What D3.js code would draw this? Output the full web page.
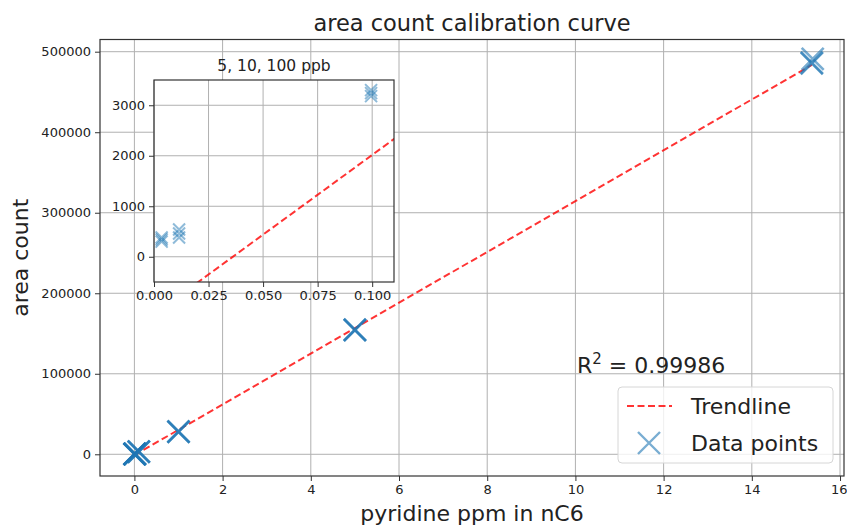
<!DOCTYPE html>
<html>
<head>
<meta charset="utf-8">
<script src="https://cdn.jsdelivr.net/npm/d3@7"></script>
<style>
  body { margin: 0; background: #fff; }
  svg { font-family: 'DejaVu Sans', sans-serif; }
  .tick text { fill: #222; }
</style>
</head>
<body>
<div id="svg-container"></div>
<script>
// Data
var ppm = [0.0035, 0.0035, 0.0035, 0.0115, 0.0115, 0.0115, 0.0995, 0.0995, 0.0995,
  1.0, 1.0, 1.0, 5.0, 5.0, 5.0, 15.36, 15.36, 15.38]
var area = [300, 340, 380, 380, 460, 540, 3180, 3240, 3300,
  27800, 28100, 28300, 154200, 154500, 154700, 485500, 486300, 491000]
var trendX = [0, 15.36]
var trendY = [-1140, 483600]
var xTicks = [0, 2, 4, 6, 8, 10, 12, 14, 16]
var yTicks = [0, 100000, 200000, 300000, 400000, 500000]
var insetXTicks = [0, 0.025, 0.05, 0.075, 0.1]
var insetYTicks = [0, 1000, 2000, 3000]
var rSquared = '0.99986'

var svgWidth = 847,
  svgHeight = 527

// main axes box
var main = { left: 100, right: 844, top: 39.5, bottom: 476 }
// inset axes box
var inset = { left: 154, right: 394, top: 80, bottom: 282 }

var svg = d3
  .select('#svg-container')
  .append('svg')
  .attr('width', svgWidth)
  .attr('height', svgHeight)

var xScale = d3.scaleLinear().domain([-0.78, 16.09]).range([main.left, main.right])
var yScale = d3.scaleLinear().domain([-26957, 515155]).range([main.bottom, main.top])
var ixScale = d3.scaleLinear().domain([0, 0.11]).range([inset.left, inset.right])
var iyScale = d3.scaleLinear().domain([-500, 3500]).range([inset.bottom, inset.top])

var defs = svg.append('defs')
defs.append('clipPath').attr('id', 'clip-main')
  .append('rect')
  .attr('x', main.left).attr('y', main.top)
  .attr('width', main.right - main.left).attr('height', main.bottom - main.top)
defs.append('clipPath').attr('id', 'clip-inset')
  .append('rect')
  .attr('x', inset.left).attr('y', inset.top)
  .attr('width', inset.right - inset.left).attr('height', inset.bottom - inset.top)

var points = ppm.map((p, i) => ({ x: p, y: area[i] }))
var trend = trendX.map((t, i) => ({ x: t, y: trendY[i] }))

function crossPath(size) {
  var h = size / 2
  return `M${-h},${-h}L${h},${h}M${-h},${h}L${h},${-h}`
}

// draws one set of axes: grid, data, trendline, spines, ticks
function drawAxes(g, box, x, y, xt, yt, opts) {
  g.append('rect')
    .attr('x', box.left).attr('y', box.top)
    .attr('width', box.right - box.left).attr('height', box.bottom - box.top)
    .attr('fill', '#fff')

  // grid
  g.append('g').selectAll('line').data(xt).join('line')
    .attr('x1', d => x(d)).attr('x2', d => x(d))
    .attr('y1', box.top).attr('y2', box.bottom)
    .attr('stroke', '#b0b0b0').attr('stroke-width', 1)
  g.append('g').selectAll('line').data(yt).join('line')
    .attr('y1', d => y(d)).attr('y2', d => y(d))
    .attr('x1', box.left).attr('x2', box.right)
    .attr('stroke', '#b0b0b0').attr('stroke-width', 1)

  var plot = g.append('g').attr('clip-path', `url(#${opts.clip})`)

  var linegen = d3.line().x(d => x(d.x)).y(d => y(d.y))
  plot.append('path')
    .datum(trend)
    .attr('fill', 'none')
    .attr('stroke', '#ff0000')
    .attr('stroke-opacity', 0.8)
    .attr('stroke-width', 2)
    .attr('stroke-dasharray', '7,3.5')
    .attr('d', linegen)

  plot.append('g').selectAll('path').data(points).join('path')
    .attr('transform', d => `translate(${x(d.x)},${y(d.y)})`)
    .attr('d', crossPath(opts.markerSize))
    .attr('fill', 'none')
    .attr('stroke', '#1f77b4')
    .attr('stroke-opacity', opts.markerAlpha)
    .attr('stroke-width', opts.markerWidth)

  // axes
  var xAxis = d3.axisBottom(x).tickValues(xt).tickSize(5).tickPadding(4)
    .tickFormat(opts.xFormat)
  var yAxis = d3.axisLeft(y).tickValues(yt).tickSize(5).tickPadding(4)
    .tickFormat(opts.yFormat)

  var gx = g.append('g')
    .attr('transform', `translate(0,${box.bottom})`)
    .call(xAxis)
  var gy = g.append('g')
    .attr('transform', `translate(${box.left},0)`)
    .call(yAxis)
  ;[gx, gy].forEach(a => {
    a.select('.domain').remove()
    a.selectAll('.tick line').attr('stroke', '#333')
    a.selectAll('.tick text')
      .style('font-family', "'DejaVu Sans', sans-serif")
      .style('font-size', opts.tickFont + 'px')
  })

  g.append('rect')
    .attr('x', box.left).attr('y', box.top)
    .attr('width', box.right - box.left).attr('height', box.bottom - box.top)
    .attr('fill', 'none')
    .attr('stroke', '#333')
    .attr('stroke-width', 1.2)
  return gx
}

// Main chart
var gMain = svg.append('g')
var mainX = drawAxes(gMain, main, xScale, yScale, xTicks, yTicks, {
  clip: 'clip-main',
  markerSize: 22,
  markerWidth: 2.6,
  markerAlpha: 0.6,
  tickFont: 13,
  xFormat: d3.format('d'),
  yFormat: d3.format('d'),
})
// last label sits against the right edge, as in the original
mainX.selectAll('.tick text').filter(d => d === 16).attr('text-anchor', 'end').attr('dx', 7)

// Inset chart
var gInset = svg.append('g')
drawAxes(gInset, inset, ixScale, iyScale, insetXTicks, insetYTicks, {
  clip: 'clip-inset',
  markerSize: 12,
  markerWidth: 2,
  markerAlpha: 0.5,
  tickFont: 13,
  xFormat: d3.format('.3f'),
  yFormat: d3.format('d'),
})

// Titles and labels
svg.append('text')
  .attr('x', (main.left + main.right) / 2)
  .attr('y', 31)
  .attr('text-anchor', 'middle')
  .style('font-size', '22.5px')
  .attr('fill', '#222')
  .text('area count calibration curve')

svg.append('text')
  .attr('x', (inset.left + inset.right) / 2)
  .attr('y', 71)
  .attr('text-anchor', 'middle')
  .style('font-size', '15.5px')
  .attr('fill', '#222')
  .text('5, 10, 100 ppb')

svg.append('text')
  .attr('x', (main.left + main.right) / 2)
  .attr('y', 521)
  .attr('text-anchor', 'middle')
  .style('font-size', '22px')
  .attr('fill', '#222')
  .text('pyridine ppm in nC6')

svg.append('text')
  .attr('transform', `translate(28, ${(main.top + main.bottom) / 2}) rotate(-90)`)
  .attr('text-anchor', 'middle')
  .style('font-size', '22px')
  .attr('fill', '#222')
  .text('area count')

// R squared annotation
var r2 = svg.append('text')
  .attr('x', 577)
  .attr('y', 373)
  .style('font-size', '22px')
  .attr('fill', '#222')
r2.append('tspan').text('R')
r2.append('tspan').attr('dy', -9).style('font-size', '15px').text('2')
r2.append('tspan').attr('dy', 9).text(' = ' + rSquared)

// Legend
var lg = svg.append('g')
lg.append('rect')
  .attr('x', 618).attr('y', 387)
  .attr('width', 215).attr('height', 76)
  .attr('rx', 4)
  .attr('fill', '#fff').attr('fill-opacity', 0.8)
  .attr('stroke', '#d6d6d6')
lg.append('line')
  .attr('x1', 627).attr('x2', 672)
  .attr('y1', 406).attr('y2', 406)
  .attr('stroke', '#ff0000').attr('stroke-opacity', 0.8)
  .attr('stroke-width', 2)
  .attr('stroke-dasharray', '7,3.5')
lg.append('text')
  .attr('x', 691).attr('y', 414)
  .style('font-size', '22px')
  .attr('fill', '#222')
  .text('Trendline')
lg.append('path')
  .attr('transform', 'translate(649,443)')
  .attr('d', crossPath(22))
  .attr('fill', 'none')
  .attr('stroke', '#1f77b4')
  .attr('stroke-opacity', 0.6)
  .attr('stroke-width', 2.4)
lg.append('text')
  .attr('x', 691).attr('y', 451)
  .style('font-size', '22px')
  .attr('fill', '#222')
  .text('Data points')
</script>
</body>
</html>
